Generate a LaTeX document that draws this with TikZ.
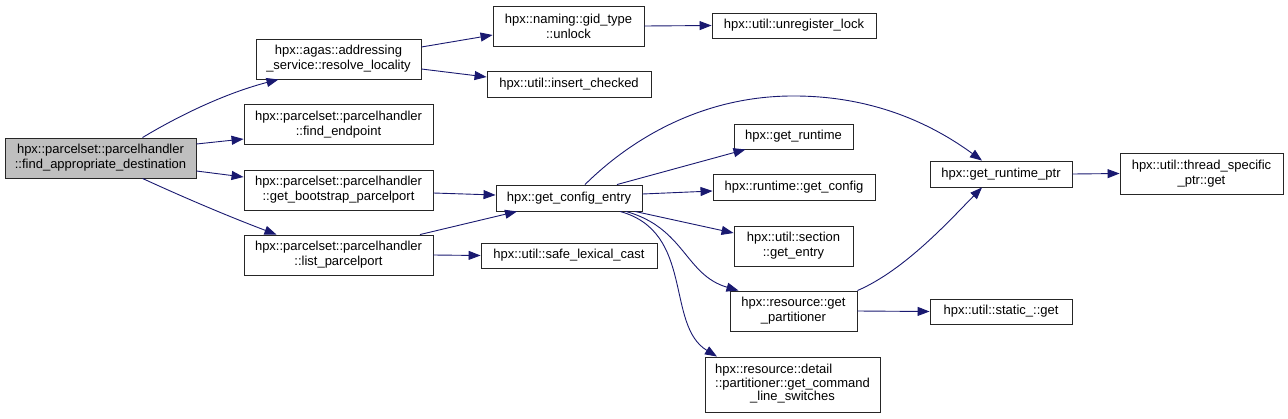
\documentclass[tikz,border=0pt]{standalone}
\usepackage{fontspec}
\setmainfont{Liberation Sans}
\usetikzlibrary{arrows.meta}
\definecolor{edgeblue}{HTML}{191970}
\definecolor{boxgray}{HTML}{BFBFBF}
\begin{document}
\begin{tikzpicture}[x=1pt,y=-1pt,
  fn/.style={draw=black!85,line width=0.9pt,fill=white,inner sep=0pt,align=center,
    font=\fontsize{13}{15}\selectfont},
  call/.style={draw=edgeblue,line width=0.9pt,-{Triangle[length=12pt,width=9pt]},fill=none}]
\useasboundingbox (0,0) rectangle (1288,418);
% nodes
\node[fn,fill=boxgray,minimum width=191pt,minimum height=40pt] (A) at (100.5,158) {hpx::parcelset::parcelhandler\\::find\_appropriate\_destination};
\node[fn,minimum width=165pt,minimum height=40pt] (B) at (338.5,59) {hpx::agas::addressing\\\_service::resolve\_locality};
\node[fn,minimum width=189pt,minimum height=40pt] (C) at (338.5,124.5) {hpx::parcelset::parcelhandler\\::find\_endpoint};
\node[fn,minimum width=189pt,minimum height=40pt] (D) at (338.5,190) {hpx::parcelset::parcelhandler\\::get\_bootstrap\_parcelport};
\node[fn,minimum width=189pt,minimum height=40pt] (E) at (338.5,255) {hpx::parcelset::parcelhandler\\::list\_parcelport};
\node[fn,minimum width=151pt,minimum height=40pt] (F) at (568.5,26) {hpx::naming::gid\_type\\::unlock};
\node[fn,minimum width=164pt,minimum height=25pt] (G) at (794,25.5) {hpx::util::unregister\_lock};
\node[fn,minimum width=164pt,minimum height=26pt] (H) at (569,84) {hpx::util::insert\_checked};
\node[fn,minimum width=146pt,minimum height=26pt] (I) at (569,198) {hpx::get\_config\_entry};
\node[fn,minimum width=119pt,minimum height=25pt] (J) at (793.5,136.5) {hpx::get\_runtime};
\node[fn,minimum width=162pt,minimum height=26pt] (K) at (794,187) {hpx::runtime::get\_config};
\node[fn,minimum width=119pt,minimum height=40pt] (L) at (793.5,246) {hpx::util::section\\::get\_entry};
\node[fn,minimum width=127pt,minimum height=40pt] (M) at (793.5,311) {hpx::resource::get\\\_partitioner};
\node[fn,minimum width=175pt,minimum height=55pt] (N) at (792.5,384.5) {\renewcommand\arraystretch{0.87}\begin{tabular}{@{}l@{}}hpx::resource::detail\\::partitioner::get\_command\\\multicolumn{1}{@{}c@{}}{\_line\_switches}\end{tabular}};
\node[fn,minimum width=176pt,minimum height=25pt] (O) at (569,255.5) {hpx::util::safe\_lexical\_cast};
\node[fn,minimum width=142pt,minimum height=26pt] (P) at (1001,174) {hpx::get\_runtime\_ptr};
\node[fn,minimum width=163pt,minimum height=41pt] (Q) at (1201.5,173.5) {hpx::util::thread\_specific\\\_ptr::get};
\node[fn,minimum width=142pt,minimum height=25pt] (R) at (1001,311.5) {hpx::util::static\_::get};
% edges
\draw[call] ([xshift=42pt]A.north) .. controls (185,112) and (230,92) .. ([xshift=-60pt]B.south);
\draw[call] ([yshift=14pt]A.east) -- ([yshift=-14.5pt]C.west);
\draw[call] ([yshift=-13pt]A.east) -- ([yshift=13pt]D.west);
\draw[call] ([xshift=42pt]A.south) .. controls (185,198) and (230,217) .. ([xshift=-62pt]E.north);
\draw[call] ([yshift=12pt]B.east) -- ([yshift=-9pt]F.west);
\draw[call] ([yshift=-10pt]B.east) -- ([yshift=7pt]H.west);
\draw[call] (F.east) -- (G.west);
\draw[call] ([yshift=-3pt]D.east) -- ([yshift=3pt]I.west);
\draw[call] ([xshift=81.5pt]E.north) -- ([xshift=-52pt]I.south);
\draw[call] (E.east) -- (O.west);
\draw[call] ([xshift=16pt]I.north) .. controls (630,140) and (700,97) .. (790,96) .. controls (880,95) and (940,130) .. ([xshift=-19pt]P.north);
\draw[call] ([xshift=48pt]I.north) -- ([xshift=-48pt]J.south);
\draw[call] ([yshift=4pt]I.east) -- ([yshift=-4pt]K.west);
\draw[call] ([xshift=66pt]I.south) -- ([yshift=13pt]L.west);
\draw[call] ([xshift=57pt]I.south) .. controls (685,228) and (685,275) .. ([xshift=-55pt]M.north);
\draw[call] ([xshift=51pt]I.south) .. controls (695,232) and (665,325) .. ([xshift=-75.5pt]N.north);
\draw[call] (M.north east) .. controls (905,270) and (950,220) .. ([xshift=-19pt]P.south);
\draw[call] (M.east) -- (R.west);
\draw[call] (P.east) -- (Q.west);
\end{tikzpicture}
\end{document}
